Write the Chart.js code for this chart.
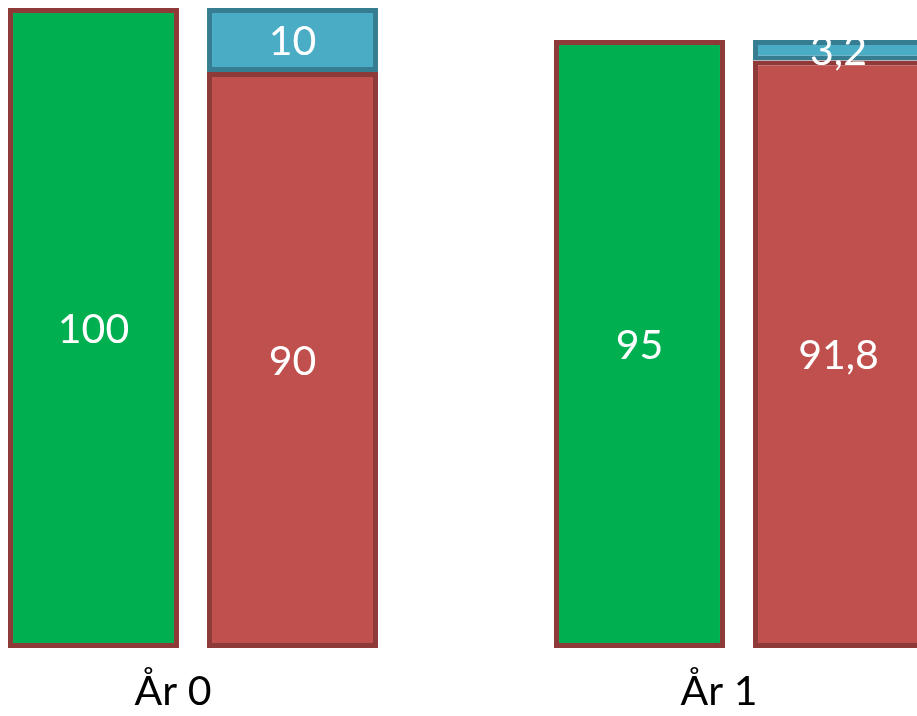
<!DOCTYPE html>
<html>
<head>
<meta charset="utf-8">
<script src="https://cdn.jsdelivr.net/npm/chart.js@4"></script>
<style>
  html, body { margin: 0; padding: 0; background: #fff; overflow: hidden; width: 917px; height: 716px; }
  #wrap { position: absolute; left: -80px; top: 0; width: 1092px; height: 716px; }
</style>
</head>
<body>
<div id="wrap"><canvas id="c"></canvas></div>
<script>
// Years on the category axis
const years = ['År 0', 'År 1'];
// Green column (left bar of each year)
const totalValues = [100, 95];
// Stacked column: red lower part and blue upper part
const lowerValues = [90, 91.8];
const upperValues = [10, 3.2];

const FONT = 'Lato, "Open Sans", sans-serif';

// White value labels centred in every bar segment
const barLabels = {
  id: 'barLabels',
  afterDatasetsDraw(chart) {
    const ctx = chart.ctx;
    ctx.save();
    ctx.fillStyle = '#ffffff';
    ctx.font = '41px ' + FONT;
    ctx.textAlign = 'center';
    ctx.textBaseline = 'middle';
    chart.data.datasets.forEach((ds, i) => {
      chart.getDatasetMeta(i).data.forEach((bar, j) => {
        const p = bar.getCenterPoint();
        ctx.fillText(String(ds.data[j]).replace('.', ','), p.x, p.y + 2);
      });
    });
    ctx.restore();
  }
};

const edge = { borderWidth: 5, borderSkipped: false };

new Chart(document.getElementById('c'), {
  type: 'bar',
  data: {
    labels: years,
    datasets: [
      Object.assign({ data: totalValues, stack: 'left', backgroundColor: '#00B050', borderColor: '#8E3A38' }, edge),
      Object.assign({ data: lowerValues, stack: 'right', backgroundColor: '#C0504D', borderColor: '#8E3A38' }, edge),
      Object.assign({ data: upperValues, stack: 'right', backgroundColor: '#4BACC6', borderColor: '#377D92' }, edge)
    ]
  },
  options: {
    responsive: true,
    maintainAspectRatio: false,
    animation: false,
    layout: { padding: { top: 8, bottom: 0, left: 0, right: 0 } },
    datasets: { bar: { categoryPercentage: 0.729, barPercentage: 0.859 } },
    plugins: { legend: { display: false }, tooltip: { enabled: false } },
    scales: {
      x: {
        stacked: true,
        grid: { display: false, drawTicks: false },
        border: { display: false },
        afterFit(scale) { scale.height = 68; },
        ticks: {
          color: '#000000',
          padding: 23,
          labelOffset: -20,
          font: { family: FONT, size: 41, lineHeight: 1 }
        }
      },
      y: {
        stacked: true,
        display: false,
        min: 0,
        max: 100
      }
    }
  },
  plugins: [barLabels]
});
</script>
</body>
</html>
